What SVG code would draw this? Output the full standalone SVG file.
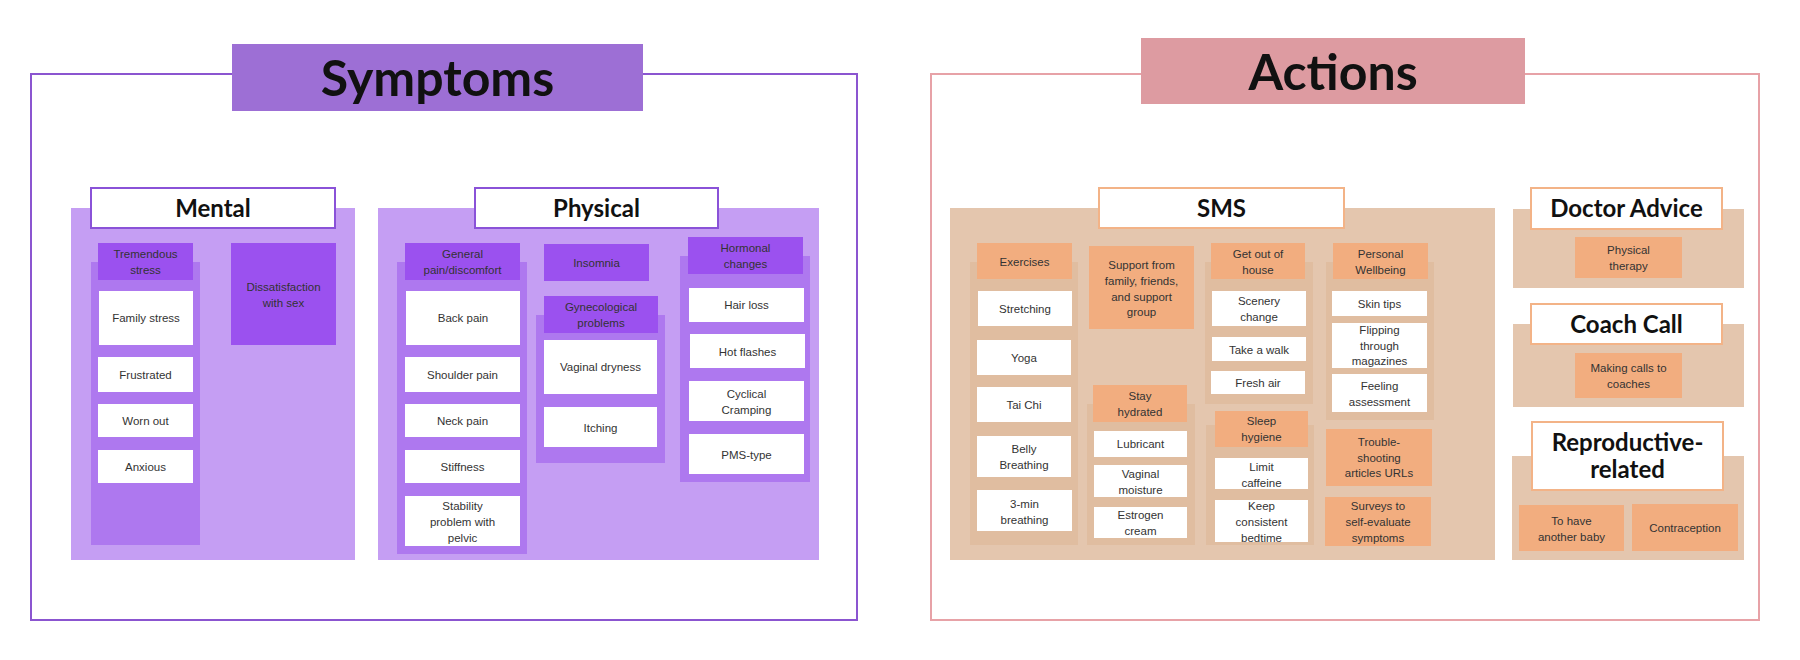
<svg xmlns="http://www.w3.org/2000/svg" width="1800" height="660" viewBox="0 0 1800 660">
<style>
.bgw{fill:#ffffff}
.frameS{fill:none;stroke:#8b55d0;stroke-width:2}
.frameA{fill:none;stroke:#e7a2a7;stroke-width:2}
.titleS{fill:#9d6fd5}
.titleA{fill:#dd9ba1}
.big{font-family:Lato,"Liberation Sans",sans-serif;font-weight:700;font-size:50px;fill:#111;text-anchor:middle}
.sub{font-family:Lato,"Liberation Sans",sans-serif;font-weight:700;font-size:24px;fill:#111;text-anchor:middle}
.secP{fill:#c59ef3}
.colP{fill:#ae78ef}
.hdrP{fill:#9b51ef}
.wb{fill:#ffffff}
.stP{fill:#ffffff;stroke:#8a52d8;stroke-width:2}
.secA{fill:#e4c6ae}
.colA{fill:#e0bda0}
.hdrA{fill:#f2ad7f}
.stA{fill:#ffffff;stroke:#f3b387;stroke-width:2}
.t{font-family:"Liberation Sans",Arial,sans-serif;font-size:11.5px;fill:#333;text-anchor:middle}
</style>
<rect class="bgw" x="0" y="0" width="1800" height="660"/>

<!-- SYMPTOMS -->
<g id="symptoms">
<rect class="frameS" x="31" y="74" width="826" height="546"/>
<rect class="titleS" x="232" y="44" width="411" height="67"/>
<text class="big" x="437.5" y="96">Symptoms</text>
</g>

<g id="mental">
<rect class="secP" x="71" y="208" width="284" height="352"/>
<rect class="stP" x="91" y="188" width="244" height="40"/>
<text class="sub" x="213" y="217">Mental</text>
</g>
<g id="tremendous-stress">
<rect class="colP" x="91" y="262" width="109" height="283"/>
<rect class="hdrP" x="98" y="243" width="95" height="37"/>
<text class="t" x="145.5" y="258"><tspan x="145.5">Tremendous</tspan><tspan x="145.5" dy="16">stress</tspan></text>
</g>
<g id="family-stress"><rect class="wb" x="99" y="291" width="94" height="54"/><text class="t" x="146" y="322">Family stress</text></g>
<g id="frustrated"><rect class="wb" x="98" y="357" width="95" height="35"/><text class="t" x="145.5" y="378.5">Frustrated</text></g>
<g id="worn-out"><rect class="wb" x="98" y="404" width="95" height="33"/><text class="t" x="145.5" y="424.5">Worn out</text></g>
<g id="anxious"><rect class="wb" x="98" y="450" width="95" height="33"/><text class="t" x="145.5" y="470.5">Anxious</text></g>
<g id="dissatisfaction"><rect class="hdrP" x="231" y="243" width="105" height="102"/><text class="t" x="283.5" y="291"><tspan x="283.5">Dissatisfaction</tspan><tspan x="283.5" dy="16">with sex</tspan></text></g>

<g id="physical">
<rect class="secP" x="378" y="208" width="441" height="352"/>
<rect class="stP" x="475" y="188" width="243" height="40"/>
<text class="sub" x="596.5" y="217">Physical</text>
</g>
<g id="general-pain">
<rect class="colP" x="397" y="262" width="130" height="292"/>
<rect class="hdrP" x="405" y="243" width="115" height="37"/>
<text class="t" x="462.5" y="258"><tspan x="462.5">General</tspan><tspan x="462.5" dy="16">pain/discomfort</tspan></text>
</g>
<g id="back-pain"><rect class="wb" x="406" y="291" width="114" height="54"/><text class="t" x="463" y="322">Back pain</text></g>
<g id="shoulder-pain"><rect class="wb" x="405" y="357" width="115" height="35"/><text class="t" x="462.5" y="378.5">Shoulder pain</text></g>
<g id="neck-pain"><rect class="wb" x="405" y="404" width="115" height="33"/><text class="t" x="462.5" y="424.5">Neck pain</text></g>
<g id="stiffness"><rect class="wb" x="405" y="450" width="115" height="33"/><text class="t" x="462.5" y="470.5">Stiffness</text></g>
<g id="stability"><rect class="wb" x="405" y="496" width="115" height="50"/><text class="t" x="462.5" y="510"><tspan x="462.5">Stability</tspan><tspan x="462.5" dy="16">problem with</tspan><tspan x="462.5" dy="16">pelvic</tspan></text></g>
<g id="insomnia"><rect class="hdrP" x="544" y="244" width="105" height="37"/><text class="t" x="596.5" y="266.5">Insomnia</text></g>
<g id="gynecological">
<rect class="colP" x="536" y="315" width="129" height="148"/>
<rect class="hdrP" x="544" y="296" width="114" height="37"/>
<text class="t" x="601" y="311"><tspan x="601">Gynecological</tspan><tspan x="601" dy="16">problems</tspan></text>
</g>
<g id="vaginal-dryness"><rect class="wb" x="544" y="340" width="113" height="54"/><text class="t" x="600.5" y="371">Vaginal dryness</text></g>
<g id="itching"><rect class="wb" x="544" y="407" width="113" height="40"/><text class="t" x="600.5" y="432">Itching</text></g>
<g id="hormonal">
<rect class="colP" x="680" y="256" width="130" height="226"/>
<rect class="hdrP" x="688" y="237" width="115" height="37"/>
<text class="t" x="745.5" y="252"><tspan x="745.5">Hormonal</tspan><tspan x="745.5" dy="16">changes</tspan></text>
</g>
<g id="hair-loss"><rect class="wb" x="689" y="288" width="115" height="34"/><text class="t" x="746.5" y="309">Hair loss</text></g>
<g id="hot-flashes"><rect class="wb" x="690" y="334" width="115" height="34"/><text class="t" x="747.5" y="356">Hot flashes</text></g>
<g id="cyclical-cramping"><rect class="wb" x="689" y="381" width="115" height="40"/><text class="t" x="746.5" y="398"><tspan x="746.5">Cyclical</tspan><tspan x="746.5" dy="16">Cramping</tspan></text></g>
<g id="pms-type"><rect class="wb" x="689" y="434" width="115" height="40"/><text class="t" x="746.5" y="459">PMS-type</text></g>

<!-- ACTIONS -->
<g id="actions">
<rect class="frameA" x="931" y="74" width="828" height="546"/>
<rect class="titleA" x="1141" y="38" width="384" height="66"/>
<text class="big" x="1333" y="90">Actions</text>
</g>

<g id="sms">
<rect class="secA" x="950" y="208" width="545" height="352"/>
<rect class="stA" x="1099" y="188" width="245" height="40"/>
<text class="sub" x="1221.5" y="217">SMS</text>
</g>
<g id="exercises">
<rect class="colA" x="970" y="262" width="108" height="283"/>
<rect class="hdrA" x="977" y="243" width="95" height="36"/>
<text class="t" x="1024.5" y="266">Exercises</text>
</g>
<g id="stretching"><rect class="wb" x="978" y="291" width="94" height="35"/><text class="t" x="1025" y="312.7">Stretching</text></g>
<g id="yoga"><rect class="wb" x="977" y="340" width="94" height="35"/><text class="t" x="1024" y="362">Yoga</text></g>
<g id="tai-chi"><rect class="wb" x="977" y="387" width="94" height="35"/><text class="t" x="1024" y="408.7">Tai Chi</text></g>
<g id="belly-breathing"><rect class="wb" x="977" y="436" width="94" height="41"/><text class="t" x="1024" y="453"><tspan x="1024">Belly</tspan><tspan x="1024" dy="16">Breathing</tspan></text></g>
<g id="three-min-breathing"><rect class="wb" x="977" y="490" width="95" height="41"/><text class="t" x="1024.5" y="508"><tspan x="1024.5">3-min</tspan><tspan x="1024.5" dy="16">breathing</tspan></text></g>
<g id="support"><rect class="hdrA" x="1089" y="246" width="105" height="83"/><text class="t" x="1141.5" y="269"><tspan x="1141.5">Support from</tspan><tspan x="1141.5" dy="15.8">family, friends,</tspan><tspan x="1141.5" dy="15.8">and support</tspan><tspan x="1141.5" dy="15.8">group</tspan></text></g>
<g id="stay-hydrated">
<rect class="colA" x="1087" y="404" width="108" height="141"/>
<rect class="hdrA" x="1093" y="385" width="94" height="37"/>
<text class="t" x="1140" y="400"><tspan x="1140">Stay</tspan><tspan x="1140" dy="16">hydrated</tspan></text>
</g>
<g id="lubricant"><rect class="wb" x="1094" y="431" width="93" height="26"/><text class="t" x="1140.5" y="448">Lubricant</text></g>
<g id="vaginal-moisture"><rect class="wb" x="1094" y="465" width="93" height="32"/><text class="t" x="1140.5" y="478"><tspan x="1140.5">Vaginal</tspan><tspan x="1140.5" dy="16">moisture</tspan></text></g>
<g id="estrogen-cream"><rect class="wb" x="1094" y="507" width="93" height="31"/><text class="t" x="1140.5" y="519.3"><tspan x="1140.5">Estrogen</tspan><tspan x="1140.5" dy="16">cream</tspan></text></g>
<g id="get-out">
<rect class="colA" x="1205" y="262" width="108" height="142"/>
<rect class="hdrA" x="1211" y="243" width="94" height="36"/>
<text class="t" x="1258" y="257.7"><tspan x="1258">Get out of</tspan><tspan x="1258" dy="16">house</tspan></text>
</g>
<g id="scenery-change"><rect class="wb" x="1212" y="291" width="94" height="35"/><text class="t" x="1259" y="304.7"><tspan x="1259">Scenery</tspan><tspan x="1259" dy="16">change</tspan></text></g>
<g id="take-a-walk"><rect class="wb" x="1212" y="337" width="94" height="24"/><text class="t" x="1259" y="354">Take a walk</text></g>
<g id="fresh-air"><rect class="wb" x="1211" y="371" width="94" height="23"/><text class="t" x="1258" y="387">Fresh air</text></g>
<g id="sleep-hygiene">
<rect class="colA" x="1206" y="425" width="108" height="120"/>
<rect class="hdrA" x="1215" y="411" width="93" height="36"/>
<text class="t" x="1261.5" y="425"><tspan x="1261.5">Sleep</tspan><tspan x="1261.5" dy="16">hygiene</tspan></text>
</g>
<g id="limit-caffeine"><rect class="wb" x="1215" y="458" width="93" height="31"/><text class="t" x="1261.5" y="471"><tspan x="1261.5">Limit</tspan><tspan x="1261.5" dy="16">caffeine</tspan></text></g>
<g id="keep-bedtime"><rect class="wb" x="1215" y="500" width="93" height="42"/><text class="t" x="1261.5" y="510"><tspan x="1261.5">Keep</tspan><tspan x="1261.5" dy="16">consistent</tspan><tspan x="1261.5" dy="15.5">bedtime</tspan></text></g>
<g id="personal-wellbeing">
<rect class="colA" x="1326" y="262" width="108" height="158"/>
<rect class="hdrA" x="1333" y="243" width="95" height="36"/>
<text class="t" x="1380.5" y="257.7"><tspan x="1380.5">Personal</tspan><tspan x="1380.5" dy="16">Wellbeing</tspan></text>
</g>
<g id="skin-tips"><rect class="wb" x="1332" y="291" width="95" height="25"/><text class="t" x="1379.5" y="307.7">Skin tips</text></g>
<g id="flipping"><rect class="wb" x="1332" y="323" width="95" height="45"/><text class="t" x="1379.5" y="334"><tspan x="1379.5">Flipping</tspan><tspan x="1379.5" dy="16">through</tspan><tspan x="1379.5" dy="15">magazines</tspan></text></g>
<g id="feeling-assessment"><rect class="wb" x="1332" y="374" width="95" height="38"/><text class="t" x="1379.5" y="389.7"><tspan x="1379.5">Feeling</tspan><tspan x="1379.5" dy="16">assessment</tspan></text></g>
<g id="troubleshooting"><rect class="hdrA" x="1326" y="429" width="106" height="57"/><text class="t" x="1379" y="445.7"><tspan x="1379">Trouble-</tspan><tspan x="1379" dy="16">shooting</tspan><tspan x="1379" dy="15">articles URLs</tspan></text></g>
<g id="surveys"><rect class="hdrA" x="1325" y="497" width="106" height="49"/><text class="t" x="1378" y="510"><tspan x="1378">Surveys to</tspan><tspan x="1378" dy="16">self-evaluate</tspan><tspan x="1378" dy="15.5">symptoms</tspan></text></g>

<g id="doctor-advice">
<rect class="secA" x="1513" y="209" width="231" height="79"/>
<rect class="stA" x="1531" y="188" width="191" height="41"/>
<text class="sub" x="1626.5" y="217">Doctor Advice</text>
</g>
<g id="physical-therapy"><rect class="hdrA" x="1575" y="237" width="107" height="41"/><text class="t" x="1628.5" y="253.7"><tspan x="1628.5">Physical</tspan><tspan x="1628.5" dy="16">therapy</tspan></text></g>

<g id="coach-call">
<rect class="secA" x="1513" y="324" width="231" height="83"/>
<rect class="stA" x="1531" y="304" width="191" height="40"/>
<text class="sub" x="1626.5" y="333">Coach Call</text>
</g>
<g id="making-calls"><rect class="hdrA" x="1575" y="353" width="107" height="45"/><text class="t" x="1628.5" y="371.7"><tspan x="1628.5">Making calls to</tspan><tspan x="1628.5" dy="16">coaches</tspan></text></g>

<g id="reproductive">
<rect class="secA" x="1512" y="456" width="232" height="104"/>
<rect class="stA" x="1532" y="422" width="191" height="68"/>
<text class="sub" x="1627.5" y="451"><tspan x="1627.5">Reproductive-</tspan><tspan x="1627.5" dy="27">related</tspan></text>
</g>
<g id="another-baby"><rect class="hdrA" x="1519" y="505" width="105" height="46"/><text class="t" x="1571.5" y="525.3"><tspan x="1571.5">To have</tspan><tspan x="1571.5" dy="16">another baby</tspan></text></g>
<g id="contraception"><rect class="hdrA" x="1632" y="504" width="106" height="47"/><text class="t" x="1685" y="532.3">Contraception</text></g>

<g id="connectors"/>
</svg>
